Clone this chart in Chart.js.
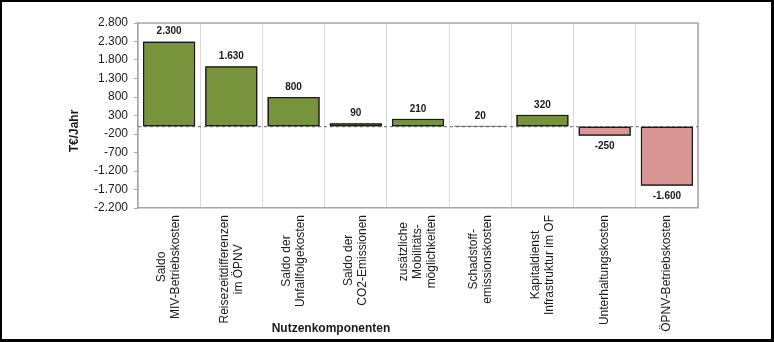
<!DOCTYPE html>
<html>
<head>
<meta charset="utf-8">
<script src="https://cdn.jsdelivr.net/npm/chart.js@4.4.1/dist/chart.umd.min.js"></script>
<style>
  html, body { margin: 0; padding: 0; background: #fff; }
  #wrap { position: relative; width: 774px; height: 342px; }
  #nutzen-canvas { position: absolute; left: 0; top: 0; }
</style>
</head>
<body>
<div id="wrap">
  <canvas id="nutzen-canvas" width="774" height="342"></canvas>
</div>
<script>
// Nutzenkomponenten, Werte in T€/Jahr
const labels = [
  ['Saldo', 'MIV-Betriebskosten'],
  ['Reisezeitdifferenzen', 'im ÖPNV'],
  ['Saldo der', 'Unfallfolgekosten'],
  ['Saldo der', 'CO2-Emissionen'],
  ['zusätzliche', 'Mobilitäts-', 'möglichkeiten'],
  ['Schadstoff-', 'emissionskosten'],
  ['Kapitaldienst', 'Infrastruktur im OF'],
  ['Unterhaltungskosten'],
  ['ÖPNV-Betriebskosten']
];
const values = [2300, 1630, 800, 90, 210, 20, 320, -250, -1600];

const yMin = -2200;
const yMax = 2800;
const yStep = 500;

const green = '#77933c';
const pink = '#d99694';

function fmt(v) {
  const s = Math.abs(v).toString().replace(/\B(?=(\d{3})+(?!\d))/g, '.');
  return (v < 0 ? '-' : '') + s;
}

// Rahmen, Nulllinie, Balkenwerte, Kategorienbeschriftung, Achsentitel
const extras = {
  id: 'extras',
  beforeDraw(chart) {
    const ctx = chart.ctx;
    ctx.save();
    ctx.fillStyle = '#fff';
    ctx.fillRect(0, 0, chart.width, chart.height);
    ctx.restore();
  },
  afterDatasetsDraw(chart) {
    const ctx = chart.ctx;
    const area = chart.chartArea;
    const x = chart.scales.x;
    const y = chart.scales.y;
    ctx.save();

    // Plotrahmen oben/rechts
    ctx.strokeStyle = '#a6a6a6';
    ctx.lineWidth = 1.5;
    ctx.beginPath();
    ctx.moveTo(area.left, area.top);
    ctx.lineTo(area.right, area.top);
    ctx.lineTo(area.right, area.bottom);
    ctx.stroke();

    // Nulllinie
    const y0 = y.getPixelForValue(0);
    ctx.strokeStyle = '#7f7f7f';
    ctx.lineWidth = 1.2;
    ctx.setLineDash([3, 3]);
    ctx.beginPath();
    ctx.moveTo(area.left, y0);
    ctx.lineTo(area.right, y0);
    ctx.stroke();
    ctx.setLineDash([]);

    // Balken neu zeichnen, damit sie über der Nulllinie liegen
    chart.getDatasetMeta(0).data.forEach(el => el.draw(ctx, area));

    // Werte an den Balken
    ctx.fillStyle = '#1a1a1a';
    ctx.font = 'bold 10px "Liberation Sans", Arial, sans-serif';
    ctx.textAlign = 'center';
    ctx.textBaseline = 'middle';
    const meta = chart.getDatasetMeta(0);
    meta.data.forEach((bar, i) => {
      const v = values[i];
      const ty = v >= 0 ? bar.y - 10 : bar.y + 10;
      ctx.fillText(fmt(v), bar.x, ty);
    });

    // Kategorien, senkrecht, zeilenweise zentriert
    ctx.font = '12px "Liberation Sans", Arial, sans-serif';
    ctx.fillStyle = '#1a1a1a';
    const top = area.bottom + 7;
    const lh = 14;
    labels.forEach((lines, i) => {
      const cx = x.getPixelForTick(i);
      const w = Math.max(...lines.map(l => ctx.measureText(l).width));
      ctx.save();
      ctx.translate(cx, top + w / 2);
      ctx.rotate(-Math.PI / 2);
      lines.forEach((l, j) => {
        ctx.fillText(l, 0, (j - (lines.length - 1) / 2) * lh);
      });
      ctx.restore();
    });

    // Achsentitel
    ctx.font = 'bold 12px "Liberation Sans", Arial, sans-serif';
    ctx.fillText('Nutzenkomponenten', 331, 329);
    ctx.save();
    ctx.translate(75, 131);
    ctx.rotate(-Math.PI / 2);
    ctx.fillText('T€/Jahr', 0, 0);
    ctx.restore();

    // äußerer Rahmen
    ctx.fillStyle = '#000';
    ctx.fillRect(0, 0, chart.width, 2);
    ctx.fillRect(0, 0, 2, chart.height);
    ctx.fillRect(chart.width - 3, 0, 3, chart.height);
    ctx.fillRect(0, chart.height - 3, chart.width, 3);

    ctx.restore();
  }
};

new Chart(document.getElementById('nutzen-canvas'), {
  type: 'bar',
  data: {
    labels: labels,
    datasets: [{
      data: values,
      backgroundColor: values.map(v => v >= 0 ? green : pink),
      borderColor: '#1a1a1a',
      borderWidth: 1.5,
      borderSkipped: false,
      barPercentage: 0.84,
      categoryPercentage: 1
    }]
  },
  options: {
    responsive: false,
    animation: false,
    events: [],
    layout: { padding: { left: 0, top: 23, right: 76, bottom: 0 } },
    plugins: {
      legend: { display: false },
      tooltip: { enabled: false }
    },
    scales: {
      x: {
        ticks: { display: false },
        grid: { color: '#d9d9d9', lineWidth: 1, offset: true, drawTicks: false },
        border: { color: '#a6a6a6', width: 1.5 },
        afterFit(scale) { scale.height = 134; }
      },
      y: {
        min: yMin,
        max: yMax,
        ticks: {
          stepSize: yStep,
          padding: 6,
          color: '#1a1a1a',
          font: { family: '"Liberation Sans", Arial, sans-serif', size: 12 },
          callback: v => fmt(v)
        },
        grid: {
          drawOnChartArea: false,
          drawTicks: true,
          tickLength: 4,
          tickColor: '#a6a6a6'
        },
        border: { color: '#a6a6a6', width: 1.5 },
        afterFit(scale) { scale.width = 138; }
      }
    }
  },
  plugins: [extras]
});
</script>
</body>
</html>
